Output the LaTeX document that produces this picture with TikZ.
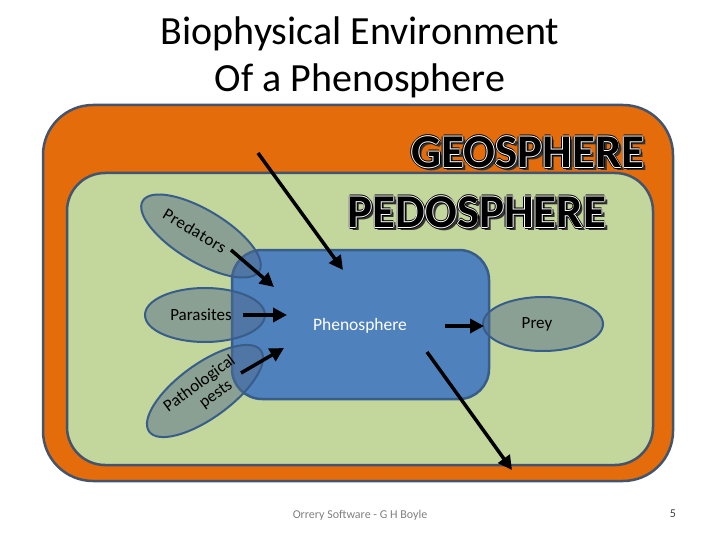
\documentclass[tikz,border=0pt]{standalone}
\usepackage{fontspec}
\setmainfont{Carlito}
\usetikzlibrary{shapes.geometric,arrows.meta}
\definecolor{orng}{RGB}{228,108,10}
\definecolor{lgreen}{RGB}{195,214,155}
\definecolor{pblue}{RGB}{79,129,189}
\definecolor{rim}{RGB}{66,84,110}
\definecolor{ovalrim}{RGB}{56,93,138}
\definecolor{ovalfill}{RGB}{80,108,140}
\newcommand\embossword[1]{%
  \makebox[0pt][l]{\hspace{3pt}\raisebox{-3pt}{\color{black!80}#1}}%
  \makebox[0pt][l]{\hspace{1.6pt}\color{black}#1}%
  \makebox[0pt][l]{\hspace{-1.6pt}\color{black}#1}%
  \makebox[0pt][l]{\raisebox{1.6pt}{\color{black}#1}}%
  \makebox[0pt][l]{\raisebox{-1.6pt}{\color{black}#1}}%
  \makebox[0pt][l]{\hspace{0.8pt}\color{white}#1}%
  \makebox[0pt][l]{\hspace{-0.8pt}\color{white}#1}%
  \makebox[0pt][l]{\raisebox{0.8pt}{\color{white}#1}}%
  \makebox[0pt][l]{\raisebox{-0.8pt}{\color{white}#1}}%
  {\color{black}#1}}

\begin{document}
\begin{tikzpicture}[x=1pt,y=-1pt,
  box/.style={draw=#1,line width=2.5pt},
  oval/.style={ellipse,draw=ovalrim,line width=2pt,fill=ovalfill,
    fill opacity=0.5,draw opacity=1,text opacity=1,inner sep=0pt,
    font=\fontsize{17}{20}\selectfont},
  link/.style={line width=3.5pt,-{Triangle[length=14pt,width=14pt]}},
  big/.style={font=\fontsize{47}{50}\selectfont\bfseries}]
          \useasboundingbox (0,0) rectangle (720,540);

          \node[font=\fontsize{40}{47}\selectfont,align=center] (title) at (360,57) {Biophysical Environment\\Of a Phenosphere};

          % the nested spheres
          \node[box=rim,fill=orng,rounded corners=50pt,minimum width=630pt,minimum height=376pt] (geo) at (358,293) {};
          \node[box=rim,fill=lgreen,rounded corners=38pt,minimum width=586pt,minimum height=292pt] (pedo) at (360,319) {};
          \node[box=ovalrim,fill=pblue,rounded corners=30pt,minimum width=257pt,minimum height=149pt] (pheno) at (360.5,324.5) {};
          \node[text=white,font=\fontsize{17.5}{20}\selectfont] (phenolbl) at (360,326) {Phenosphere};

          \node[big] (geolbl) at (528,153) {\embossword{GEOSPHERE}};
          \node[big] (pedolbl) at (477,213) {\embossword{PEDOSPHERE}};

          % the ovals
          \node[oval,rotate=-31,minimum width=136pt,minimum height=52pt] (pred) at (201,236) {\raisebox{3pt}{\addfontfeatures{LetterSpace=3}Predators}\kern16pt};
          \node[oval,minimum width=120pt,minimum height=54pt] (para) at (205,315) {Parasites\kern8pt};
          \node[oval,rotate=36,minimum width=138pt,minimum height=54pt,align=center] (path) at (205,391) {Pathological\\[-2pt]\hspace{14pt}pests};
          \node[oval,minimum width=120pt,minimum height=54pt] (prey) at (543,324) {\kern-12pt Prey};

          % arrow ends
          \coordinate (toptail) at (258,153);
          \coordinate (tophead) at (343,270);
          \coordinate (predtail) at (231,250);
          \coordinate (predhead) at (274,287);
          \coordinate (paratail) at (243,315);
          \coordinate (parahead) at (287,315);
          \coordinate (pathtail) at (241,373);
          \coordinate (pathhead) at (284,348);
          \coordinate (preytail) at (445,326);
          \coordinate (preyhead) at (484,326);
          \coordinate (lowtail) at (427,352);
          \coordinate (lowhead) at (512,470);

          \draw[link] (toptail) -- (tophead);
          \draw[link] (predtail) -- (predhead);
          \draw[link] (paratail) -- (parahead);
          \draw[link] (pathtail) -- (pathhead);
          \draw[link] (preytail) -- (preyhead);
          \draw[link] (lowtail) -- (lowhead);

          \node[text=black!50,font=\fontsize{12}{14}\selectfont] (credit) at (360,515) {Orrery Software - G H Boyle};
          \node[text=black!75,font=\fontsize{12}{14}\selectfont] (page) at (673,514) {5};
\end{tikzpicture}
\end{document}
